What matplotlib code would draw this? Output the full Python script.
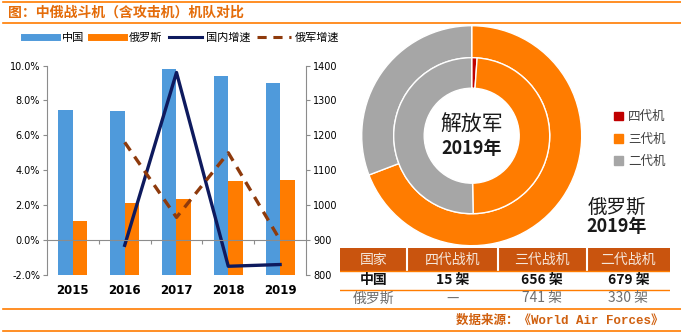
import matplotlib.pyplot as plt
from matplotlib.lines import Line2D
from matplotlib.patches import Rectangle

plt.rcParams['font.family'] = ['Noto Sans CJK SC', 'DejaVu Sans']

# data
years = ['2015', '2016', '2017', '2018', '2019']
china_fleet = [1272, 1270, 1390, 1370, 1350]
russia_fleet = [955, 1006, 1018, 1069, 1071]
china_growth = [None, -0.3, 9.6, -1.5, -1.4]
russia_growth = [None, 5.6, 1.3, 5.0, 0.0]

gen_labels = ['四代机', '三代机', '二代机']
pla_2019 = [15, 656, 679]
rus_2019 = [0, 741, 330]

table_header = ['国家', '四代战机', '三代战机', '二代战机']
table_china = ['中国', '15 架', '656 架', '679 架']
table_russia = ['俄罗斯', '—', '741 架', '330 架']

BLUE = '#4F9ADB'
ORANGE = '#FF7C00'
NAVY = '#0E1A5E'
BROWN = '#8E3A0C'
GRAY = '#A6A6A6'
RED = '#C00000'
TITLE_C = '#E46C0A'

W, H = 681, 336
fig = plt.figure(figsize=(W / 100, H / 100), dpi=100)


def box(x0, y0, x1, y1):
    # pixel box (top-left origin) -> figure fraction rect
    return [x0 / W, 1 - y1 / H, (x1 - x0) / W, (y1 - y0) / H]


# frame lines and title
for y in (2, 23, 309, 331):
    fig.add_artist(Line2D([3 / W, 1], [1 - y / H] * 2, color=ORANGE, lw=1.2))
fig.text(8 / W, 1 - 12.5 / H, '图：中俄战斗机（含攻击机）机队对比', color=TITLE_C,
         fontsize=10, fontweight='bold', va='center', ha='left')

# ---- left combo chart ----
ax = fig.add_axes(box(47, 65.5, 306, 275))
ax2 = ax.twinx()
ax.set_zorder(ax2.get_zorder() + 1)
ax.patch.set_visible(False)

x = list(range(len(years)))
bw = 0.28
ax2.bar([i - bw / 2 for i in x], china_fleet, bw, color=BLUE, label='中国')
ax2.bar([i + bw / 2 for i in x], russia_fleet, bw, color=ORANGE, label='俄罗斯')
ax2.set_ylim(800, 1400)
ax2.set_yticks(range(800, 1401, 100))

xs = [i for i, v in zip(x, china_growth) if v is not None]
ax.plot(xs, [v for v in china_growth if v is not None], color=NAVY, lw=2.4)
ax.plot(xs, [v for v in russia_growth if v is not None], color=BROWN, lw=2.4,
        dashes=(3, 2.2))
ax.set_ylim(-2, 10)
ax.set_yticks(range(-2, 11, 2))
ax.set_yticklabels(['%.1f%%' % t for t in range(-2, 11, 2)])
ax.set_xlim(-0.5, len(years) - 0.5)

for a in (ax, ax2):
    a.spines['top'].set_visible(False)
    for s in ('left', 'right', 'bottom'):
        a.spines[s].set_color('#8C8C8C')
    a.tick_params(axis='y', labelsize=7, length=3, color='#8C8C8C', pad=2,
                  labelfontfamily='DejaVu Sans')
ax2.spines['bottom'].set_visible(False)
ax2.spines['left'].set_visible(False)
ax.spines['right'].set_visible(False)
ax.spines['bottom'].set_position(('data', 0))
ax.set_xticks([i + 0.5 for i in x[:-1]])
ax.tick_params(axis='x', length=3, color='#8C8C8C', labelbottom=False)
for i, yr in zip(x, years):
    ax.text(i, -0.075, yr, transform=ax.get_xaxis_transform(), ha='center',
            va='center', fontsize=8.5, fontweight='bold', family='DejaVu Sans')

handles = [Line2D([], [], color=BLUE, lw=5), Line2D([], [], color=ORANGE, lw=5),
           Line2D([], [], color=NAVY, lw=2.2),
           Line2D([], [], color=BROWN, lw=2.2, dashes=(3, 2.2))]
fig.legend(handles, ['中国', '俄罗斯', '国内增速', '俄军增速'], ncol=4, frameon=False,
           loc='center left', bbox_to_anchor=(14 / W, 1 - 38 / H), fontsize=8,
           handlelength=3, columnspacing=0.6, handletextpad=0.4)

# ---- donut ----
axp = fig.add_axes(box(361.7, 25.7, 581.7, 245.7))
ro, ri = 1.0, 78 / 110
wo, wi = 1 - 78 / 110, (78 - 47.5) / 110
colors = [RED, ORANGE, GRAY]
axp.pie(rus_2019, radius=ro, colors=colors, startangle=90, counterclock=False,
        wedgeprops=dict(width=wo, edgecolor='white', linewidth=1))
axp.pie(pla_2019, radius=ri, colors=colors, startangle=90, counterclock=False,
        wedgeprops=dict(width=wi, edgecolor='white', linewidth=1))
axp.set_xlim(-1, 1)
axp.set_ylim(-1, 1)
axp.set_aspect('equal')
axp.axis('off')
axp.text(0, 0.1, '解放军', ha='center', va='center', fontsize=15, color='#1A1A1A')
axp.text(0, -0.12, '2019年', ha='center', va='center', fontsize=13,
         fontweight='bold', color='#1A1A1A')

fig.text(617 / W, 1 - 207 / H, '俄罗斯', ha='center', va='center', fontsize=14,
         color='#1A1A1A')
fig.text(617 / W, 1 - 227 / H, '2019年', ha='center', va='center', fontsize=13,
         fontweight='bold', color='#1A1A1A')

lg_handles = [Rectangle((0, 0), 1, 1, color=c) for c in colors]
fig.legend(lg_handles, gen_labels, loc='upper left',
           bbox_to_anchor=(603 / W, 1 - 99 / H), frameon=False, fontsize=9,
           handlelength=0.7, handleheight=0.7, handletextpad=0.4,
           labelspacing=0.75, labelcolor='#404040')

# ---- table ----
axt = fig.add_axes(box(340, 248, 670, 307))
edges = [340, 407, 497.7, 586.7, 670]
axt.set_xlim(edges[0], edges[-1])
axt.set_ylim(307, 248)
axt.axis('off')
axt.add_patch(Rectangle((edges[0], 248), edges[-1] - edges[0], 22.7,
                        color='#C9540E', lw=0))
for e in edges[1:-1]:
    axt.plot([e, e], [248, 270.7], color='white', lw=1.5)
axt.plot([edges[0], edges[-1]], [271.5, 271.5], color=ORANGE, lw=1)
axt.plot([edges[0], edges[-1]], [290, 290], color=ORANGE, lw=1)
for j in range(4):
    cx = (edges[j] + edges[j + 1]) / 2
    axt.text(cx, 259.5, table_header[j], ha='center', va='center', fontsize=10,
             color='#F5E6DA')
    axt.text(cx, 280.5, table_china[j], ha='center', va='center', fontsize=10,
             fontweight='bold', color='#111111')
    axt.text(cx, 298.5, table_russia[j], ha='center', va='center', fontsize=10,
             color='#6E6E6E')

fig.text(663 / W, 1 - 320.5 / H, '数据来源：《World Air Forces》', ha='right',
         va='center', fontsize=9, fontweight='bold', color='#D0600F',
         family=['Liberation Mono', 'Noto Sans CJK SC'])

fig.savefig('out.png', dpi=100)
